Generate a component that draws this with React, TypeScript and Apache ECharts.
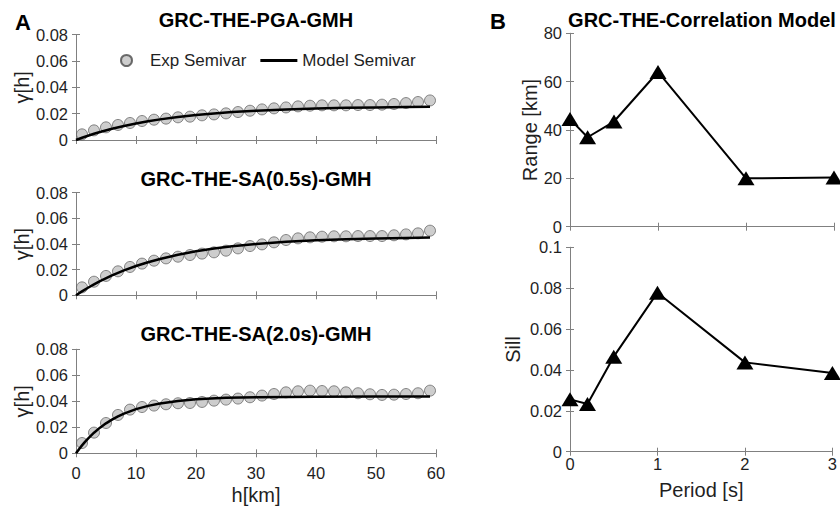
import React, { useEffect, useRef } from "react";
import * as echarts from "echarts";

// ---- Data ----
const hExp = [1, 3, 5, 7, 9, 11, 13, 15, 17, 19, 21, 23, 25, 27, 29, 31, 33, 35, 37, 39, 41, 43, 45, 47, 49, 51, 53, 55, 57, 59];
const expPGA = [0.0043, 0.0073, 0.0096, 0.0114, 0.0129, 0.0144, 0.0154, 0.0162, 0.0172, 0.0177, 0.0187, 0.0194, 0.0202, 0.0212, 0.0222, 0.0232, 0.024, 0.0247, 0.0255, 0.026, 0.0263, 0.0263, 0.0263, 0.0265, 0.0265, 0.0268, 0.0273, 0.028, 0.0288, 0.03];
const expSA05 = [0.0062, 0.0106, 0.0151, 0.0187, 0.0221, 0.0247, 0.027, 0.0288, 0.0301, 0.0314, 0.0325, 0.0335, 0.0348, 0.0366, 0.0384, 0.0397, 0.0413, 0.0431, 0.0444, 0.0452, 0.0457, 0.046, 0.046, 0.0462, 0.0462, 0.0462, 0.0468, 0.0475, 0.0483, 0.0504];
const expSA20 = [0.0079, 0.0159, 0.0233, 0.0295, 0.0336, 0.0356, 0.0367, 0.0377, 0.0385, 0.0387, 0.0395, 0.0405, 0.0413, 0.0421, 0.0431, 0.0444, 0.0456, 0.0469, 0.0477, 0.0482, 0.0479, 0.0477, 0.0469, 0.0462, 0.0454, 0.0449, 0.0451, 0.0456, 0.0462, 0.0482];

const hModel = [0, 1, 2, 3, 4, 6, 8, 10, 12, 14, 17, 20, 23, 26, 30, 35, 40, 45, 50, 55, 59];
const modelPGA = [0, 0.00167, 0.00323, 0.00469, 0.00605, 0.00852, 0.01067, 0.01255, 0.0142, 0.01564, 0.01746, 0.01895, 0.02017, 0.02116, 0.02221, 0.02318, 0.02387, 0.02437, 0.02472, 0.02497, 0.02512];
const modelSA05 = [0, 0.00305, 0.0059, 0.00856, 0.01104, 0.01552, 0.01942, 0.02282, 0.02579, 0.02836, 0.03162, 0.03427, 0.03642, 0.03818, 0.04002, 0.0417, 0.0429, 0.04374, 0.04434, 0.04477, 0.04502];
const hModel2 = [0, 0.5, 1, 1.5, 2, 3, 4, 5, 6, 7, 8, 10, 12, 14, 17, 20, 25, 30, 40, 50, 59];
const modelSA20 = [0, 0.00316, 0.00609, 0.0088, 0.01133, 0.01584, 0.01972, 0.02306, 0.02593, 0.02841, 0.03054, 0.03395, 0.03648, 0.03835, 0.04029, 0.04152, 0.04267, 0.04321, 0.04359, 0.04367, 0.04369];

const periods = [0, 0.2, 0.5, 1, 2, 3];
const rangeKm = [44.5, 37, 43.5, 64, 20, 20.3];
const sillVals = [0.0256, 0.0233, 0.0465, 0.0778, 0.0437, 0.0385];

const leftTitles = ["GRC-THE-PGA-GMH", "GRC-THE-SA(0.5s)-GMH", "GRC-THE-SA(2.0s)-GMH"];
const rightTitle = "GRC-THE-Correlation Model";

const FONT = "'Liberation Sans', Arial, Helvetica, sans-serif";
const AXIS_COLOR = "#808080";
const TEXT_COLOR = "#1f1f1f";

const zip = (xs: number[], ys: number[]) => xs.map((x, i) => [x, ys[i]]);

export default function App() {
  const ref = useRef<HTMLDivElement>(null);
  useEffect(() => {
    if (!ref.current) return;
    const chart = echarts.init(ref.current, undefined, { renderer: "svg" });

    const grids = [
      { left: 76, top: 34.5, width: 360, height: 105.5 },
      { left: 76, top: 192.7, width: 360, height: 102.6 },
      { left: 76, top: 349.3, width: 360, height: 104 },
      { left: 570, top: 33.3, width: 264, height: 193.4 },
      { left: 570, top: 247.3, width: 264, height: 204.4 },
    ];

    const axisLine = { show: true, lineStyle: { color: AXIS_COLOR, width: 1 } };
    const tick = { show: true, inside: true, length: 4, lineStyle: { color: AXIS_COLOR } };
    const label = (show: boolean, margin: number) => ({
      show,
      margin,
      color: TEXT_COLOR,
      fontSize: 16.5,
      fontFamily: FONT,
    });
    const nameStyle = { color: TEXT_COLOR, fontSize: 20, fontFamily: FONT };

    const xAxes: any[] = [];
    const yAxes: any[] = [];
    grids.forEach((_, i) => {
      const isLeft = i < 3;
      const xCfg = isLeft ? { min: 0, max: 60, interval: 10 } : { min: 0, max: 3, interval: 1 };
      const yCfg = isLeft
        ? { min: 0, max: 0.08, interval: 0.02 }
        : i === 3
        ? { min: 0, max: 80, interval: 20 }
        : { min: 0, max: 0.1, interval: 0.02 };
      const showX = i === 2 || i === 4;
      xAxes.push({
        type: "value",
        gridIndex: i,
        position: "bottom",
        ...xCfg,
        axisLine,
        axisTick: tick,
        splitLine: { show: false },
        axisLabel: label(showX, i === 2 ? 11 : 4),
        name: i === 2 ? "h[km]" : i === 4 ? "Period [s]" : "",
        nameLocation: "middle",
        nameGap: i === 2 ? 32 : 28,
        nameTextStyle: nameStyle,
      });
      xAxes.push({
        type: "value",
        gridIndex: i,
        position: "top",
        ...xCfg,
        axisLine,
        axisTick: tick,
        splitLine: { show: false },
        axisLabel: { show: false },
      });
      yAxes.push({
        type: "value",
        gridIndex: i,
        position: "left",
        ...yCfg,
        axisLine,
        axisTick: tick,
        splitLine: { show: false },
        axisLabel: label(true, 8),
        name: isLeft ? "γ[h]" : i === 3 ? "Range [km]" : "Sill",
        nameLocation: "middle",
        nameRotate: 90,
        nameGap: isLeft ? 37 : i === 3 ? 28 : 47,
        nameTextStyle: nameStyle,
      });
      yAxes.push({
        type: "value",
        gridIndex: i,
        position: "right",
        ...yCfg,
        axisLine,
        axisTick: tick,
        splitLine: { show: false },
        axisLabel: { show: false },
      });
    });

    const expStyle = { color: "#c0c0c0", borderColor: "#4a4a4a", borderWidth: 0.8 };
    const expSets = [expPGA, expSA05, expSA20];
    const modelSets = [
      zip(hModel, modelPGA),
      zip(hModel, modelSA05),
      zip(hModel2, modelSA20),
    ];

    const series: any[] = [];
    for (let i = 0; i < 3; i++) {
      series.push({
        name: "Exp Semivar",
        type: "scatter",
        xAxisIndex: 2 * i,
        yAxisIndex: 2 * i,
        symbol: "circle",
        symbolSize: 11,
        itemStyle: expStyle,
        data: zip(hExp, expSets[i]),
        z: 2,
      });
      series.push({
        name: "Model Semivar",
        type: "line",
        xAxisIndex: 2 * i,
        yAxisIndex: 2 * i,
        symbol: "none",
        smooth: false,
        lineStyle: { color: "#000", width: 2.5 },
        itemStyle: { color: "#000" },
        data: modelSets[i],
        z: 3,
      });
    }
    const triStyle = { color: "#000" };
    series.push({
      name: "Range",
      type: "line",
      xAxisIndex: 6,
      yAxisIndex: 6,
      symbol: "triangle",
      symbolSize: [17, 14],
      showAllSymbol: true,
      lineStyle: { color: "#000", width: 2 },
      itemStyle: triStyle,
      data: zip(periods, rangeKm),
      clip: false,
    });
    series.push({
      name: "Sill",
      type: "line",
      xAxisIndex: 8,
      yAxisIndex: 8,
      symbol: "triangle",
      symbolSize: [17, 14],
      showAllSymbol: true,
      lineStyle: { color: "#000", width: 2 },
      itemStyle: triStyle,
      data: zip(periods, sillVals),
      clip: false,
    });

    const titleText = (text: string, x: number, y: number, size: number) => ({
      type: "text",
      x,
      y,
      style: {
        text,
        font: `bold ${size}px ${FONT}`,
        fill: "#000",
        textAlign: "center",
        textVerticalAlign: "middle",
        align: "center",
        verticalAlign: "middle",
      },
    });

    chart.setOption({
      animation: false,
      backgroundColor: "#fff",
      textStyle: { fontFamily: FONT },
      grid: grids,
      xAxis: xAxes,
      yAxis: yAxes,
      legend: {
        data: [
          { name: "Exp Semivar", icon: "circle" },
          { name: "Model Semivar", icon: "path://M0,0 L37,0 L37,3 L0,3 Z" },
        ],
        left: 115,
        top: 47,
        itemWidth: 37,
        itemHeight: 11,
        itemGap: 14,
        textStyle: { fontSize: 17, color: TEXT_COLOR, fontFamily: FONT },
        selectedMode: false,
      },
      series,
      graphic: [
        titleText(leftTitles[0], 256, 20, 20),
        titleText(leftTitles[1], 256, 179, 20),
        titleText(leftTitles[2], 256, 334, 20),
        titleText(rightTitle, 702, 20, 20),
        titleText("A", 23, 22, 22),
        titleText("B", 498, 21, 22),
      ],
    });

    return () => chart.dispose();
  }, []);

  return (
    <div
      ref={ref}
      style={{ position: "absolute", left: 0, top: 0, width: 840, height: 510 }}
    />
  );
}
